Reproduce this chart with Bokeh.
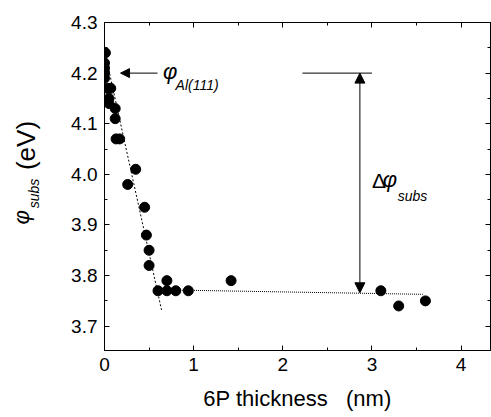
import math
from bokeh.plotting import figure
from bokeh.layouts import row
from bokeh.models import (LinearAxis, SingleIntervalTicker, Range1d, Label, Arrow,
                          NormalHead, CustomJSTickFormatter, PrintfTickFormatter)
from bokeh.core.properties import value
from bokeh.embed import file_html
from bokeh.resources import INLINE

# ---- data ----
thickness = [0.01, 0.0, 0.0, 0.0, 0.0, 0.03, 0.07, 0.05, 0.05, 0.12, 0.12, 0.13, 0.17,
             0.26, 0.35, 0.45, 0.47, 0.50, 0.50, 0.60, 0.70, 0.70, 0.80, 0.94, 1.42,
             3.10, 3.30, 3.60]
phi_subs = [4.24, 4.22, 4.21, 4.20, 4.19, 4.17, 4.17, 4.15, 4.14, 4.13, 4.11, 4.07, 4.07,
            3.98, 4.01, 3.935, 3.88, 3.85, 3.82, 3.77, 3.77, 3.79, 3.77, 3.77, 3.79,
            3.77, 3.74, 3.75]

steep_fit_x = [0.0, 0.64]
steep_fit_y = [4.245, 3.732]
flat_fit_x = [0.60, 3.57]
flat_fit_y = [3.772, 3.763]

phi_al = 4.20           # Al(111) work function
delta_x = 2.865         # position of the delta arrow
delta_low = 3.766
ref_line_x = [2.22, 3.0]
al_arrow_x = [0.595, 0.18]

x_title = "6P thickness\u00a0\u00a0\u00a0(nm)"

FONT = "Liberation Sans"
LEFT_W = 46
TOP_B, BOT_B = 22, 67

yr = Range1d(3.652, 4.3)
p = figure(width=491 - LEFT_W, height=417, output_backend="svg", toolbar_location=None,
           x_range=Range1d(0, 4.33), y_range=yr,
           x_axis_location=None, y_axis_location=None,
           min_border_left=104 - LEFT_W, min_border_right=1, min_border_top=TOP_B,
           min_border_bottom=BOT_B)
p.grid.visible = False
p.outline_line_color = "black"
p.outline_line_width = 1
p.background_fill_color = "white"
p.border_fill_color = "white"

blank = CustomJSTickFormatter(code="return '';")

def style(ax, labels=True):
    ax.axis_line_color = "black"
    ax.major_tick_in = 5
    ax.major_tick_out = 0
    ax.minor_tick_in = 3
    ax.minor_tick_out = 0
    ax.major_tick_line_color = "black"
    ax.minor_tick_line_color = "black"
    ax.major_label_text_font = FONT
    ax.major_label_text_font_size = "19px"
    ax.major_label_text_color = "black"
    ax.major_label_standoff = 7
    if not labels:
        ax.formatter = blank
        ax.major_label_standoff = 0
        ax.major_label_text_font_size = "1px"

bottom = LinearAxis(ticker=SingleIntervalTicker(interval=1, num_minor_ticks=2))
style(bottom)
bottom.axis_label = x_title
bottom.axis_label_text_font = FONT
bottom.axis_label_text_font_size = "22px"
bottom.axis_label_text_font_style = "normal"
bottom.axis_label_text_color = "black"
bottom.axis_label_standoff = 12
p.add_layout(bottom, "below")

left = LinearAxis(ticker=SingleIntervalTicker(interval=0.1, num_minor_ticks=2),
                  formatter=PrintfTickFormatter(format="%.1f"))
style(left)
p.add_layout(left, "left")

top = LinearAxis(ticker=SingleIntervalTicker(interval=1, num_minor_ticks=2))
style(top, labels=False)
p.add_layout(top, "above")
right = LinearAxis(ticker=SingleIntervalTicker(interval=0.1, num_minor_ticks=2))
style(right, labels=False)
p.add_layout(right, "right")

# fits
p.line(steep_fit_x, steep_fit_y, line_color="black", line_width=1, line_dash="2 2")
p.line(flat_fit_x, flat_fit_y, line_color="black", line_width=1, line_dash="1 1")

# reference horizontal line
p.line(ref_line_x, [phi_al, phi_al], line_color="black", line_width=1)

# data
p.scatter(thickness, phi_subs, size=10, marker="circle", fill_color="black", line_color="black")

# arrows
p.add_layout(Arrow(x_start=delta_x, y_start=phi_al, x_end=delta_x, y_end=delta_low,
                   line_color="black", line_width=1,
                   start=NormalHead(size=10, fill_color="black", line_color="black"),
                   end=NormalHead(size=10, fill_color="black", line_color="black")))
p.add_layout(Arrow(x_start=al_arrow_x[0], y_start=phi_al, x_end=al_arrow_x[1], y_end=phi_al,
                   line_color="black", line_width=1,
                   end=NormalHead(size=9, fill_color="black", line_color="black")))

def lab(x, y, text, size, style="normal", align="left"):
    p.add_layout(Label(x=x, y=y, text=text, text_font=FONT, text_font_size=size,
                       text_font_style=style, text_align=align, text_baseline="middle",
                       text_color="black"))

# phi_Al(111)
lab(0.655, 4.203, "φ", "22px", "italic")
lab(0.797, 4.177, "Al(111)", "14px", "italic")

# delta phi subs
lab(3.0, 3.988, "Δ", "21px")
lab(3.12, 3.990, "φ", "22px", "italic")
lab(3.29, 3.958, "subs", "14px", "italic")

# ---- y-axis title panel: shares the y range, x in pixels ----
q = figure(width=LEFT_W, height=417, output_backend="svg", toolbar_location=None,
           x_range=Range1d(0, LEFT_W), y_range=yr,
           x_axis_location=None, y_axis_location=None,
           min_border_left=0, min_border_right=0, min_border_top=TOP_B,
           min_border_bottom=BOT_B)
q.grid.visible = False
q.outline_line_color = None
q.background_fill_color = "white"
q.border_fill_color = "white"

def vtext(x, y, text, size, style="normal"):
    q.text(x=[x], y=[y], text=[text], angle=math.pi / 2,
           text_font=value(FONT), text_font_size=value(size),
           text_font_style=style, text_align="center", text_baseline="middle",
           text_color="black")

vtext(25, 4.057, "(eV)", "26px")
vtext(21, 3.915, "φ", "22px", "italic")
vtext(33, 3.962, "subs", "14px", "italic")

layout = row(q, p, spacing=0)
open("out.html", "w").write(file_html(layout, INLINE))
